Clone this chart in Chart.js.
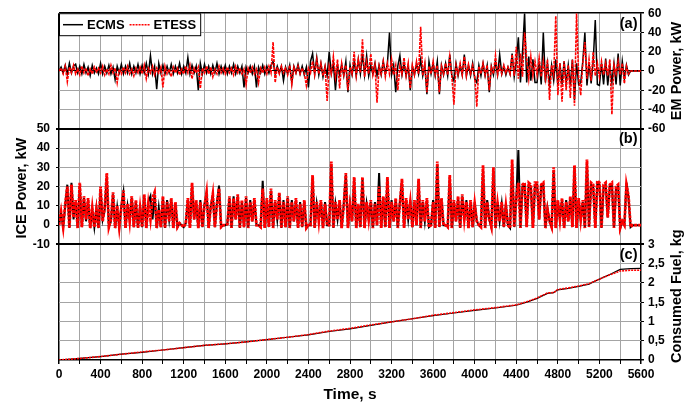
<!DOCTYPE html>
<html>
<head>
<meta charset="utf-8">
<title>ECMS vs ETESS</title>
<script src="https://cdn.jsdelivr.net/npm/chart.js@4.4.1/dist/chart.umd.min.js"></script>
<style>
  html, body { margin: 0; padding: 0; background: #fff; }
  #wrap { width: 694px; height: 408px; }
</style>
</head>
<body>
<div id="wrap"><canvas id="powerChart" width="694" height="408"></canvas></div>
<script>
// sampled signals: one value every timeStep seconds, 10 values per row (200 s)
const timeStart = 0;
const timeStep = 20;

// EM power, kW
const emEcms = [
  0, 4, -2, 6, -3, 8, -2, 5, 7, -2,
  5, -3, 7, -2, 4, -5, 6, -2, 3, -3,
  8, -3, 5, -2, 6, -3, 4, -9, 5, -2,
  7, -3, 5, -2, 8, -3, 5, -2, 7, -3,
  6, -2, 8, -3, 16, -3, 5, -19, 8, -2,
  6, -3, 5, -2, 7, -3, 5, -2, 8, -3,
  5, -2, 14, -3, 6, -2, 5, -20, 8, -3,
  7, -2, 5, -3, 6, -2, 8, -3, 5, -2,
  6, -3, 5, -2, 7, -3, 5, -2, 5, -17,
  4, -2, 5, -3, 5, -17, 4, -2, 6, -3,
  5, -2, 6, 10, -3, 5, -2, 5, -10, 4,
  -3, 6, -12, 5, -2, 7, -3, 5, -4, 4,
  -17, 10, 18, -3, 14, -4, 8, -6, 5, -5,
  20, -3, 8, -20, 6, -4, 7, -5, 10, -22,
  6, -4, 10, -5, 12, -3, 18, -4, 16, -5,
  6, -3, 8, -5, 6, -4, 10, -3, 8, 40,
  -4, 6, -22, 5, 16, -4, 8, -5, 6, -20,
  5, -4, 8, -3, 12, -5, 6, -24, 10, -3,
  8, -5, 10, -24, 6, -4, 8, -5, 17, -5,
  -10, 8, -5, 6, -4, 17, -5, 6, -5, 8,
  -8, -12, 6, -5, 8, -5, 6, -22, 5, -4,
  10, -4, 17, -3, 5, -4, 4, -3, 18, -6,
  10, 35, -12, 20, 60, -12, 15, -10, 12, -12,
  -12, 10, -14, 40, -12, 8, -14, 6, -10, 12,
  -15, 8, -14, 10, -13, 6, -15, 12, -30, 8,
  -14, -12, 10, 40, -15, 8, -13, 10, 53, -14,
  -15, 8, -14, 13, -15, 6, -12, 8, -14, 18,
  -15, 10, -8, 6, -4, 0, 0, 0, 0, 0,
  0
];
const emEtess = [
  0, 3, -3, 5, -11, 4, -2, 6, -3, 2,
  -4, 5, -2, 3, -5, 2, -3, 4, -1, 3,
  -2, 5, -4, 2, -3, 6, -2, 3, -12, 2,
  -3, 4, -2, 5, -3, 2, -5, 3, -2, 4,
  -3, 6, -8, 3, -2, 5, -4, 3, -2, 4,
  -17, 5, -3, 2, -6, 4, -2, 3, -4, 2,
  -3, 5, -2, 6, -8, 3, -2, 4, -18, 3,
  -2, 5, -3, 4, -6, 2, -3, 5, -2, 3,
  -3, 4, -2, 3, -4, 5, -2, 3, -3, 2,
  -14, 3, -2, 4, -3, 2, -12, 3, -2, 4,
  -3, 5, -2, 30, -12, 4, -3, 5, -2, 3,
  -4, 6, -14, 4, -2, 5, -3, 3, -2, -15,
  3, -2, 10, -4, 12, -3, 8, -5, 4, -31,
  5, -3, 15, -6, 12, -18, 8, -4, 6, -20,
  4, -3, 20, -5, 12, -2, 33, -6, 10, -3,
  18, -4, 6, -33, 5, -3, 10, -6, 8, -3,
  12, -4, 6, -20, 5, -3, 14, -5, 8, -18,
  6, -4, 10, -3, 46, -5, 8, -22, 5, -3,
  10, -4, 6, -22, 5, -3, 8, -4, 15, -5,
  -35, 6, -3, 8, -4, 15, -5, 7, -3, 6,
  -5, -37, 5, -3, 8, -4, 6, -20, 4, -3,
  16, -4, 5, -3, 6, -2, 4, -3, 17, -5,
  25, -8, 18, -6, 40, 12, -8, 15, -5, 10,
  -4, 14, -6, 10, -8, 12, -30, 6, -4, 57,
  -25, 8, -32, 10, -20, 6, -28, 12, -36, 60,
  -6, -25, 8, 30, -8, 12, -10, 20, -5, 8,
  -6, 10, -4, 8, -5, 12, -45, 6, -3, 10,
  -4, 8, -13, 5, -3, 0, 0, 0, 0, 0,
  0
];

// ICE power, kW
const iceEcms = [
  0, 6, -1, 10, 21, -1.5, 22, 3, 12, -1.5,
  20, -1, 14, 2, 13, -1.5, 8, -1, 9, -1.5,
  18, 3, 8, 25, -1, 2, 16, -1.5, 9, -1,
  10, 17, -1.5, 10, 3, 14, -1, 12, -1.5, 10,
  -1, 15, -1.5, 12, 15, 3, 16, -1.5, 9, -1,
  14, -1.5, 13, 3, 13, -1.5, 11, -1, 1, 0,
  -1, 1, 13, -1.5, 21, 3, 12, -1.5, 13, -1,
  11, 16, -1.5, 10, 15, -1, 12, 20.5, -1, 0,
  0, 0.5, 14, -1.5, 15, 3, 15, -1.5, 12, -1,
  14, -1.5, 13, 2, 13, 0, 0, -1, 23, -1.5,
  13, -1, 18, -1.5, 12, 3, 16, -1.5, 13, -1,
  14, -1.5, 13, 2, 13, -1.5, 12, -1, 12, -1.5,
  0, 0, 25, -1.5, 11, 3, 12, -1.5, 12, 0,
  0, 31, -1.5, 11, 3, 12, -1.5, 11, 26, -1.5,
  11, 2, 24, -1.5, 10, -1, 24, -1.5, 11, 3,
  12, -1.5, 12, 0, 27, -1.5, 14, -1, 24, -1.5,
  13, 2, 13, -1.5, 12, 23, -1.5, 13, 3, 13,
  -1, 12, 0, 23, -1.5, 12, 2, 13, -1, 0,
  13, -1.5, 31, -1, 13, 0, 0, -1, 25, -1.5,
  12, 2, 14, -1.5, 15, 3, 13, -1.5, 12, -1,
  12, 2, 0, -1, 29, -1.5, 13, 3, -1, 28,
  -1.5, 12, 2, 11, -1, 11, 0, -1.5, 32, -1,
  14, 39, -1.5, 20, 21, -1, 21, 20, -1.5, 21,
  21, 3, 20, 21, -1.5, 9, 2, -1, 28, -1.5,
  12, 3, 13, -1.5, 13, 2, 14, -1, 30, -1.5,
  13, 3, 12, -1.5, 32, -1, 21, 20, -1.5, 22,
  21, -1.5, 20, 21, 4, 20, 21, -1.5, 19, 20,
  -1.5, 2, 0, 22, 14, -1, 0, 0, 0, 0,
  0
];
const iceEtess = [
  0, 7, -1, 11, 20, -1.5, 21, 4, 13, -1.5,
  22, -1, 15, 3, 14, -1.5, 9, -1, 8, -1.5,
  20, 2, 9, 27, -1, 3, 17, -1.5, 10, -1,
  9, 18, -1.5, 11, 2, 15, -1, 13, -1.5, 9,
  -1, 16, -1.5, 11, 3, 14, 17, -1.5, 8, -1,
  15, -1.5, 12, 2, 14, -1.5, 12, -1, 1, 0,
  -1, 1, 14, -1.5, 22, 3, 13, -1.5, 12, -1,
  10, 17, -1.5, 9, 16, -1, 11, 19, -1, 0,
  0, 0.5, 15, -1.5, 14, 3, 16, -1.5, 13, -1,
  15, -1.5, 12, 2, 14, 0, 0, -1, 19, -1.5,
  14, -1, 19, -1.5, 13, 3, 17, -1.5, 12, -1,
  15, -1.5, 12, 2, 14, -1.5, 11, -1, 13, -1.5,
  0, 0, 26, -1.5, 12, 2, 13, -1.5, 11, 0,
  0, 33, -1.5, 12, 3, 13, -1.5, 10, 27, -1.5,
  10, 2, 25, -1.5, 11, -1, 25, -1.5, 12, 3,
  13, -1.5, 11, 0, 20, -1.5, 15, -1, 25, -1.5,
  12, 2, 14, -1.5, 11, 24, -1.5, 14, 3, 12,
  -1, 13, 0, 24, -1.5, 13, 2, 14, -1, 0,
  12, -1.5, 33, -1, 14, 0, 0, -1, 26, -1.5,
  13, 2, 15, -1.5, 16, 3, 12, -1.5, 13, -1,
  11, 2, 0, -1, 31, -1.5, 12, 3, -1, 30,
  -1.5, 11, 2, 12, -1, 10, 0, -1.5, 34, -1,
  14, 22, -1.5, 21, 22, -1, 22, 21, -1.5, 22,
  22, 3, 21, 22, -1.5, 8, 2, -1, 30, -1.5,
  13, 3, 14, -1.5, 12, 2, 15, -1, 31, -1.5,
  14, 3, 13, -1.5, 34, -1, 22, 21, -1.5, 23,
  22, -1.5, 21, 22, 4, 21, 22, -1.5, 20, 21,
  -1.5, 2, 0, 21, 15, -1, 0, 0, 0, 0,
  0
];

// cumulative fuel, kg
const fuelTime = [0, 200, 400, 600, 800, 1000, 1200, 1400, 1600, 1800,
  2000, 2200, 2400, 2600, 2800, 3000, 3200, 3400, 3600, 3800,
  4000, 4200, 4400, 4500, 4600, 4700, 4760, 4800, 4900, 5000,
  5100, 5200, 5300, 5400, 5500, 5600];
const fuelEcms = [0, 0.04, 0.09, 0.15, 0.2, 0.26, 0.32, 0.38, 0.42, 0.47,
  0.53, 0.59, 0.65, 0.74, 0.81, 0.9, 0.99, 1.07, 1.15, 1.22,
  1.29, 1.35, 1.42, 1.5, 1.6, 1.73, 1.75, 1.82, 1.86, 1.91,
  1.97, 2.1, 2.22, 2.35, 2.37, 2.38];
const fuelEtess = [0, 0.04, 0.09, 0.15, 0.21, 0.26, 0.32, 0.38, 0.42, 0.47,
  0.53, 0.59, 0.66, 0.75, 0.82, 0.91, 0.99, 1.07, 1.16, 1.23,
  1.3, 1.36, 1.43, 1.51, 1.61, 1.74, 1.75, 1.83, 1.87, 1.92,
  1.98, 2.1, 2.21, 2.31, 2.33, 2.33];

const emTicks = { min: -60, max: 60, step: 20 };
const iceTicks = { min: -10, max: 50, step: 10 };
const fuelTicks = { min: 0, max: 3, step: 0.5 };
const timeTicks = { min: 0, max: 5600, step: 200, labelEvery: 400 };

const FONT = "'Liberation Sans', Arial, Helvetica, sans-serif";
const GRID = '#a4a4a4';
Chart.defaults.font.family = FONT;
Chart.defaults.color = '#000';

function sampled(values) {
  return values.map((v, i) => ({ x: timeStart + i * timeStep, y: v }));
}
function paired(times, values) {
  return times.map((t, i) => ({ x: t, y: values[i] }));
}

const tickFont = { size: 12, weight: 'bold' };

// empty axes so the left and right stacks get three equal rows each
function spacerAxis(position, stack, weight, width) {
  return {
    type: 'linear', position, stack, weight, stackWeight: 1,
    ticks: { display: false },
    grid: { display: false },
    border: { display: false },
    afterFit: s => { s.width = width; }
  };
}

function edgeGrid(range, topWidth, bottomWidth, zeroBlack) {
  return {
    color: c => (c.tick.value === range.min || c.tick.value === range.max ||
      (zeroBlack && c.tick.value === 0)) ? '#000' : GRID,
    lineWidth: c => c.tick.value === range.max ? topWidth :
      (c.tick.value === range.min ? bottomWidth : 1),
    tickLength: 3,
    tickColor: '#000'
  };
}

function verticalText(ctx, text, x, y) {
  ctx.save();
  ctx.translate(x, y);
  ctx.rotate(-Math.PI / 2);
  ctx.textAlign = 'center';
  ctx.textBaseline = 'middle';
  ctx.fillText(text, 0, 0);
  ctx.restore();
}

// axis titles, panel letters and the legend box inside panel (a)
const panelDecor = {
  id: 'panelDecor',
  afterDraw(chart) {
    const { ctx, chartArea, scales } = chart;
    ctx.save();
    ctx.fillStyle = '#000';
    ctx.font = `bold 14.5px ${FONT}`;
    verticalText(ctx, 'EM Power, kW', 677, (scales.yEM.top + scales.yEM.bottom) / 2);
    verticalText(ctx, 'ICE Power, kW', 22, (scales.yICE.top + scales.yICE.bottom) / 2 + 1.5);
    verticalText(ctx, 'Consumed Fuel, kg', 677, (scales.yFuel.top + scales.yFuel.bottom) / 2 - 6);

    ctx.textAlign = 'right';
    ctx.textBaseline = 'middle';
    ctx.fillText('(a)', chartArea.right - 3.5, scales.yEM.top + 10.5);
    ctx.fillText('(b)', chartArea.right - 3.5, scales.yICE.top + 10.5);
    ctx.fillText('(c)', chartArea.right - 3.5, scales.yFuel.top + 11);

    // legend
    const items = chart.data.datasets.slice(0, 2);
    ctx.font = `bold 13px ${FONT}`;
    ctx.textAlign = 'left';
    let boxW = 4;
    items.forEach(ds => { boxW += 24 + ctx.measureText(ds.label).width + 5; });
    const lx = chartArea.left, ly = chartArea.top, lh = 22;
    ctx.fillStyle = '#fff';
    ctx.fillRect(lx, ly, boxW, lh);
    ctx.strokeStyle = '#000';
    ctx.lineWidth = 1;
    ctx.strokeRect(lx + 0.5, ly + 0.5, boxW - 1, lh);
    let x = lx + 4;
    const midY = ly + 11.5;
    items.forEach(ds => {
      ctx.beginPath();
      ctx.setLineDash(ds.borderDash ? [2, 1] : []);
      ctx.strokeStyle = ds.borderColor;
      ctx.lineWidth = 1.5;
      ctx.moveTo(x, midY);
      ctx.lineTo(x + 20, midY);
      ctx.stroke();
      ctx.setLineDash([]);
      x += 24;
      ctx.fillStyle = '#000';
      ctx.fillText(ds.label, x, midY + 0.5);
      x += ctx.measureText(ds.label).width + 5;
    });
    ctx.restore();
  }
};

const ecmsStyle = { borderColor: '#000000', borderWidth: 1.5, pointRadius: 0, order: 1 };
const etessStyle = { borderColor: '#ff0000', borderWidth: 1.6, borderDash: [3, 1], pointRadius: 0, order: 0 };

new Chart(document.getElementById('powerChart'), {
  type: 'line',
  data: {
    datasets: [
      { label: 'ECMS', data: sampled(emEcms), yAxisID: 'yEM', ...ecmsStyle },
      { label: 'ETESS', data: sampled(emEtess), yAxisID: 'yEM', ...etessStyle },
      { label: 'ECMS', data: sampled(iceEcms), yAxisID: 'yICE', ...ecmsStyle, borderWidth: 2 },
      { label: 'ETESS', data: sampled(iceEtess), yAxisID: 'yICE', ...etessStyle, borderWidth: 2.8 },
      { label: 'ECMS', data: paired(fuelTime, fuelEcms), yAxisID: 'yFuel', ...ecmsStyle, borderWidth: 1.2 },
      { label: 'ETESS', data: paired(fuelTime, fuelEtess), yAxisID: 'yFuel', ...etessStyle, borderDash: [2, 1] }
    ]
  },
  options: {
    responsive: false,
    animation: false,
    devicePixelRatio: 1,
    events: [],
    layout: { padding: { top: 11, left: 0, right: 0, bottom: 0 } },
    plugins: { legend: { display: false }, tooltip: { enabled: false } },
    scales: {
      x: {
        type: 'linear',
        min: timeTicks.min,
        max: timeTicks.max,
        ticks: {
          stepSize: timeTicks.step,
          autoSkip: false,
          maxRotation: 0,
          padding: 3,
          font: tickFont,
          callback: v => (v % timeTicks.labelEvery === 0 ? String(v) : '')
        },
        grid: {
          color: c => (c.tick.value === timeTicks.min || c.tick.value === timeTicks.max) ? '#000' : GRID,
          lineWidth: c => (c.tick.value === timeTicks.min || c.tick.value === timeTicks.max) ? 1.5 : 1,
          tickLength: 4,
          tickColor: '#000'
        },
        border: { display: false },
        title: {
          display: true,
          text: 'Time, s',
          font: { size: 15.5, weight: 'bold' },
          padding: { top: 0, bottom: 4 }
        },
        afterFit: s => { s.height = 48; }
      },
      yLa: spacerAxis('left', 'L', 2, 59),
      yICE: {
        type: 'linear', position: 'left', stack: 'L', weight: 1, stackWeight: 1,
        min: iceTicks.min, max: iceTicks.max,
        ticks: { stepSize: iceTicks.step, padding: 6, font: tickFont, autoSkip: false },
        grid: edgeGrid(iceTicks, 2, 2, false),
        border: { display: false },
        afterFit: s => { s.width = 59; }
      },
      yLc: spacerAxis('left', 'L', 0, 59),
      yEM: {
        type: 'linear', position: 'right', stack: 'R', weight: 0, stackWeight: 1,
        min: emTicks.min, max: emTicks.max,
        ticks: { stepSize: emTicks.step, padding: 4, font: tickFont, autoSkip: false },
        grid: edgeGrid(emTicks, 1.5, 2, true),
        border: { display: false },
        afterFit: s => { s.width = 53; }
      },
      yRb: spacerAxis('right', 'R', 1, 53),
      yFuel: {
        type: 'linear', position: 'right', stack: 'R', weight: 2, stackWeight: 1,
        min: fuelTicks.min, max: fuelTicks.max,
        ticks: {
          stepSize: fuelTicks.step, padding: 4, font: tickFont, autoSkip: false,
          callback: v => String(v).replace('.', ',')
        },
        grid: edgeGrid(fuelTicks, 2, 1.5, false),
        border: { display: false },
        afterFit: s => { s.width = 53; }
      }
    }
  },
  plugins: [panelDecor]
});
</script>
</body>
</html>
